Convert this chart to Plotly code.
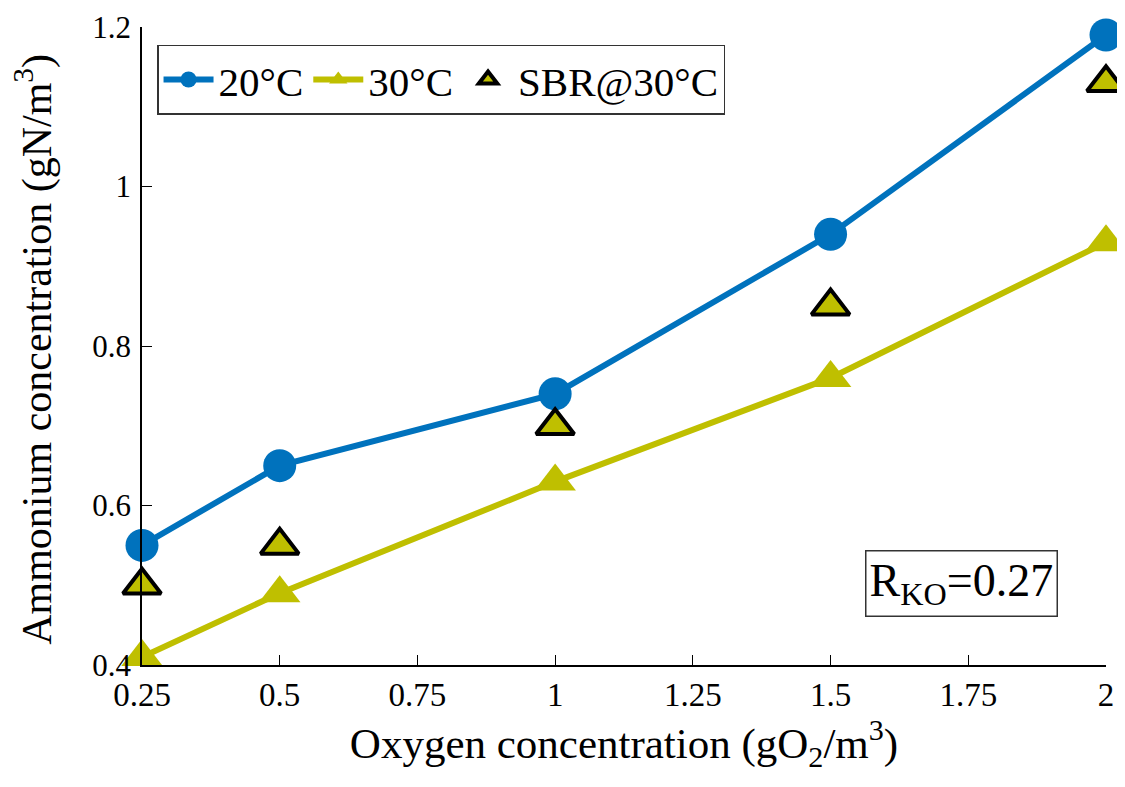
import plotly.graph_objects as go

oxygen = [0.25, 0.5, 1.0, 1.5, 2.0]
amm_20C = [0.55, 0.65, 0.74, 0.94, 1.19]
amm_30C = [0.41, 0.49, 0.63, 0.76, 0.93]
amm_sbr_30C = [0.50, 0.55, 0.70, 0.85, 1.13]

x_ticks = [0.25, 0.5, 0.75, 1, 1.25, 1.5, 1.75, 2]
x_tick_labels = ["0.25", "0.5", "0.75", "1", "1.25", "1.5", "1.75", "2"]
y_ticks = [0.4, 0.6, 0.8, 1.0, 1.2]
y_tick_labels = ["0.4", "0.6", "0.8", "1", "1.2"]

blue = "#0072BD"
olive = "#BFBF00"
font = "Liberation Serif"

fig = go.Figure()
fig.add_trace(go.Scatter(x=oxygen, y=amm_20C, mode="lines+markers", name="20°C",
                         line=dict(color=blue, width=6),
                         marker=dict(symbol="circle", size=33, color=blue),
                         cliponaxis=False))
fig.add_trace(go.Scatter(x=oxygen, y=amm_30C, mode="lines+markers", name="30°C",
                         line=dict(color=olive, width=6),
                         marker=dict(symbol="triangle-up", size=36, color=olive),
                         cliponaxis=False))
fig.add_trace(go.Scatter(x=oxygen, y=amm_sbr_30C, mode="markers", name="SBR@30°C",
                         marker=dict(symbol="triangle-up", size=33, color=olive,
                                     line=dict(color="black", width=4)),
                         cliponaxis=False))

# page body has an 8px margin; compensate so the plot lands where the reference has it
fig.update_layout(
    width=1117, height=779,
    margin=dict(l=134, r=19, t=19, b=122),
    paper_bgcolor="white", plot_bgcolor="white",
    font=dict(family=font, size=34, color="black"),
    showlegend=True,
    legend=dict(orientation="h", x=0.0156, y=0.972, xanchor="left", yanchor="top",
                bgcolor="white", bordercolor="#333", borderwidth=1.5,
                font=dict(family=font, size=41), itemwidth=50, tracegroupgap=0),
    xaxis=dict(range=[0.25, 2], tickvals=x_ticks, ticktext=x_tick_labels,
               ticks="inside", ticklen=10, tickcolor="black", tickwidth=1,
               showline=True, linecolor="black", linewidth=1.5,
               showgrid=False, zeroline=False, automargin=False,
               ticklabeloverflow="allow",
               tickfont=dict(size=33),
               title=dict(text="Oxygen concentration (gO<sub>2</sub>/m<sup>3</sup>)",
                          font=dict(size=43), standoff=8)),
    yaxis=dict(range=[0.4, 1.2], tickvals=y_ticks, ticktext=y_tick_labels,
               ticks="inside", ticklen=10, tickcolor="black", tickwidth=1,
               showline=True, linecolor="black", linewidth=1.5,
               showgrid=False, zeroline=False, automargin=False,
               ticklabeloverflow="allow", ticklabelstandoff=3,
               tickfont=dict(size=31)),
    annotations=[
        dict(text="Ammonium concentration (gN/m<sup>3</sup>)", xref="paper", yref="paper",
             x=-0.112, y=0.494, xanchor="center", yanchor="middle", textangle=-90,
             showarrow=False, font=dict(family=font, size=42)),
        dict(text="R<sub>KO</sub>=0.27", xref="paper", yref="paper",
             x=0.75, y=0.075, xanchor="left", yanchor="bottom",
             showarrow=False, font=dict(family=font, size=46),
             bordercolor="#333", borderwidth=1.5, borderpad=3,
             bgcolor="white")]
)

fig.write_html("out.html")
